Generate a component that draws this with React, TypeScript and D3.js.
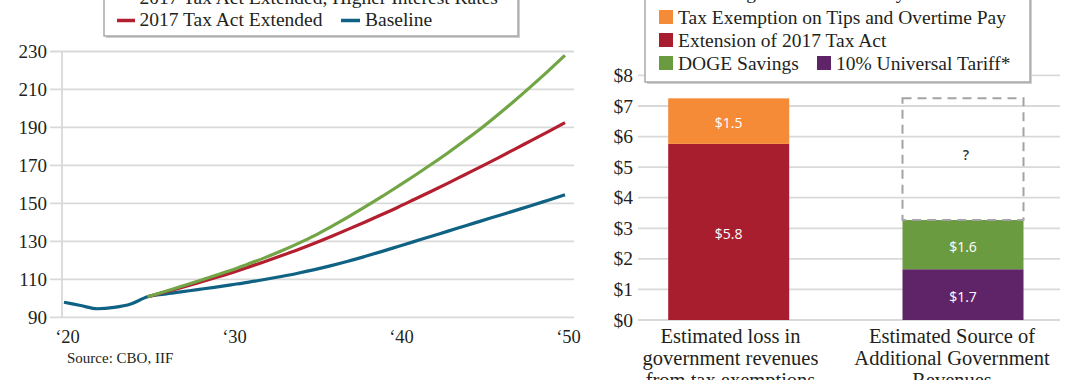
import React from "react";
import * as d3 from "d3";

// ---------- Left chart data (Debt, % of GDP) ----------
const HIST_YEARS = [2020, 2021, 2022, 2023, 2024, 2025, 2026, 2027, 2028, 2029, 2030, 2031, 2032, 2033, 2034, 2035, 2036, 2037, 2038, 2039, 2040, 2041, 2042, 2043, 2044, 2045, 2046, 2047, 2048, 2049, 2050];
const BASELINE = [97.9, 96.2, 94.5, 95.2, 97.0, 100.8, 102.2, 103.4, 104.6, 105.8, 107.1, 108.4, 109.9, 111.5, 113.2, 115.1, 117.2, 119.5, 122.0, 124.6, 127.3, 130.0, 132.7, 135.4, 138.1, 140.8, 143.5, 146.2, 148.9, 151.7, 154.5];
const PROJ_YEARS = [2025, 2026, 2027, 2028, 2029, 2030, 2031, 2032, 2033, 2034, 2035, 2036, 2037, 2038, 2039, 2040, 2041, 2042, 2043, 2044, 2045, 2046, 2047, 2048, 2049, 2050];
const TAX_ACT_EXTENDED = [100.8, 103.2, 105.6, 108.1, 110.7, 113.4, 116.3, 119.3, 122.4, 125.6, 129.0, 132.6, 136.3, 140.1, 144.0, 148.0, 152.2, 156.4, 160.7, 165.1, 169.5, 174.0, 178.6, 183.2, 187.8, 192.5];
const TAX_ACT_HIGH_RATES = [100.8, 103.5, 106.2, 109.0, 111.9, 114.8, 118.0, 121.3, 124.9, 128.8, 133.0, 137.8, 142.8, 148.0, 153.4, 159.0, 164.7, 170.6, 176.7, 183.1, 189.7, 196.8, 204.2, 211.9, 219.8, 228.0];
const Y_TICKS = [90, 110, 130, 150, 170, 190, 210, 230];
const X_TICKS = [2020, 2030, 2040, 2050];
const X_TICK_LABELS = ["\u201820", "\u201830", "\u201840", "\u201850"];

// ---------- Right chart data ($ trillions) ----------
const CATEGORIES = ["loss", "source"];
const CATEGORY_LABELS = [
  ["Estimated loss in", "government revenues", "from tax exemptions"],
  ["Estimated Source of", "Additional Government", "Revenues"],
];
const LOSS_SEGMENTS = ["Extension of 2017 Tax Act", "Tax Exemption on Tips and Overtime Pay"];
const LOSS_VALUES = [5.76, 1.49];
const SOURCE_SEGMENTS = ["10% Universal Tariff*", "DOGE Savings"];
const SOURCE_VALUES = [1.66, 1.61];
const GAP_LABEL = "?";
const DOLLAR_TICKS = [0, 1, 2, 3, 4, 5, 6, 7, 8];

const C = {
  green: "#72a545",
  red: "#b41f30",
  blue: "#0f6283",
  orange: "#f68b37",
  barRed: "#a81e2e",
  barGreen: "#6b9b41",
  purple: "#5f2467",
  grid: "#d9d9d9",
  text: "#231f20",
};
const SEG_COLORS: Record<string, string> = {
  "Extension of 2017 Tax Act": C.barRed,
  "Tax Exemption on Tips and Overtime Pay": C.orange,
  "10% Universal Tariff*": C.purple,
  "DOGE Savings": C.barGreen,
};

const SERIF = "'Liberation Serif', 'Times New Roman', serif";
const SANS = "'Open Sans', 'Noto Sans', sans-serif";

function LeftChart() {
  const x = d3.scaleLinear().domain([2020, 2050]).range([64, 565]);
  const y = d3.scaleLinear().domain([90, 230]).range([317.3, 51.5]);
  const line = d3
    .line<[number, number]>()
    .x((d) => x(d[0]))
    .y((d) => y(d[1]))
    .curve(d3.curveMonotoneX);
  const base = HIST_YEARS.map((yr, i) => [yr, BASELINE[i]] as [number, number]);
  const ext = PROJ_YEARS.map((yr, i) => [yr, TAX_ACT_EXTENDED[i]] as [number, number]);
  const high = PROJ_YEARS.map((yr, i) => [yr, TAX_ACT_HIGH_RATES[i]] as [number, number]);
  return (
    <g>
      {Y_TICKS.map((t) => (
        <g key={t}>
          <line x1={50} x2={574} y1={y(t)} y2={y(t)} stroke={C.grid} strokeWidth={1.8} />
          <text x={47} y={y(t)} dy="0.34em" textAnchor="end" fontFamily={SERIF} fontSize={19} fill={C.text}>
            {t}
          </text>
        </g>
      ))}
      <line x1={62} x2={62} y1={y(230)} y2={y(90)} stroke={C.grid} strokeWidth={1.8} />
      {X_TICKS.map((t, i) => (
        <text key={t} x={x(t) + 3.5} y={343} textAnchor="middle" fontFamily={SERIF} fontSize={18.5} fill={C.text}>
          {X_TICK_LABELS[i]}
        </text>
      ))}
      <path d={line(base) || ""} fill="none" stroke={C.blue} strokeWidth={3.2} strokeLinejoin="round" />
      <path d={line(ext) || ""} fill="none" stroke={C.red} strokeWidth={3.2} strokeLinejoin="round" />
      <path d={line(high) || ""} fill="none" stroke={C.green} strokeWidth={3.2} strokeLinejoin="round" />
      <text x={67} y={363} fontFamily={SERIF} fontSize={15} fill={C.text}>
        Source: CBO, IIF
      </text>
      {/* legend */}
      <rect x={106} y={-6} width={414} height={44} fill="#cfcfcf" />
      <rect x={104} y={-8} width={414} height={44} fill="#fff" stroke="#a3a3a3" strokeWidth={1.4} />
      <line x1={117} x2={135} y1={-2} y2={-2} stroke={C.green} strokeWidth={3.5} />
      <text x={139.5} y={4} fontFamily={SERIF} fontSize={19.5} fill={C.text}>
        2017 Tax Act Extended, Higher Interest Rates
      </text>
      <line x1={117} x2={135} y1={20.5} y2={20.5} stroke={C.red} strokeWidth={3.5} />
      <text x={139.5} y={26} fontFamily={SERIF} fontSize={19.5} fill={C.text}>
        2017 Tax Act Extended
      </text>
      <line x1={341} x2={360} y1={20.5} y2={20.5} stroke={C.blue} strokeWidth={3.5} />
      <text x={365} y={26} fontFamily={SERIF} fontSize={19.5} fill={C.text}>
        Baseline
      </text>
    </g>
  );
}

function RightChart() {
  const y = d3.scaleLinear().domain([0, 8]).range([320, 75.4]);
  const xBar = d3.scalePoint<string>().domain(CATEGORIES).range([728.7, 963]);
  const xLabel = d3.scalePoint<string>().domain(CATEGORIES).range([730.5, 952]);
  const bw = 121;
  const fmt = d3.format("$.1f");

  const stackSegments = (names: string[], vals: number[]) => {
    let acc = 0;
    return names.map((n, i) => {
      const s = { name: n, y0: acc, y1: acc + vals[i], v: vals[i] };
      acc += vals[i];
      return s;
    });
  };
  const lossStack = stackSegments(LOSS_SEGMENTS, LOSS_VALUES);
  const srcStack = stackSegments(SOURCE_SEGMENTS, SOURCE_VALUES);
  const lossTotal = d3.sum(LOSS_VALUES);
  const srcTotal = d3.sum(SOURCE_VALUES);
  const stacks = [
    { cat: "loss", segs: lossStack },
    { cat: "source", segs: srcStack },
  ];
  const cx2 = xBar("source") as number;

  return (
    <g>
      {DOLLAR_TICKS.map((t) => (
        <g key={t}>
          <line x1={638} x2={1060} y1={y(t)} y2={y(t)} stroke={C.grid} strokeWidth={1.8} />
          <text x={633} y={y(t)} dy="0.34em" textAnchor="end" fontFamily={SERIF} fontSize={19.5} fill={C.text}>
            {"$" + t}
          </text>
        </g>
      ))}
      {stacks.map((st) =>
        st.segs.map((s) => {
          const cx = xBar(st.cat) as number;
          return (
            <g key={st.cat + s.name}>
              <rect x={cx - bw / 2} y={y(s.y1)} width={bw} height={y(s.y0) - y(s.y1)} fill={SEG_COLORS[s.name]} />
              <text
                x={cx}
                y={(y(s.y0) + y(s.y1)) / 2 + 2}
                dy="0.35em"
                textAnchor="middle"
                fontFamily={SANS}
                fontSize={14}
                fill="#fff"
              >
                {fmt(s.v)}
              </text>
            </g>
          );
        })
      )}
      <rect
        x={cx2 - bw / 2}
        y={y(lossTotal)}
        width={bw}
        height={y(srcTotal) - y(lossTotal)}
        fill="none"
        stroke="#a3a3a3"
        strokeWidth={2}
        strokeDasharray="9,6"
      />
      <text
        x={cx2 + 3}
        y={(y(lossTotal) + y(srcTotal)) / 2 - 4}
        dy="0.35em"
        textAnchor="middle"
        fontFamily={SANS}
        fontSize={14}
        fontWeight={600}
        fill="#333"
      >
        {GAP_LABEL}
      </text>
      {CATEGORIES.map((c, i) =>
        CATEGORY_LABELS[i].map((ln, j) => (
          <text
            key={c + j}
            x={xLabel(c) as number}
            y={343 + j * 22}
            textAnchor="middle"
            fontFamily={SERIF}
            fontSize={20.5}
            fill={C.text}
          >
            {ln}
          </text>
        ))
      )}
      {/* legend */}
      <rect x={647} y={-6} width={385} height={90} fill="#cfcfcf" />
      <rect x={645} y={-8} width={385} height={90} fill="#fff" stroke="#a3a3a3" strokeWidth={1.4} />
      <rect x={659.5} y={-16} width={13} height={13} fill="none" stroke="#a3a3a3" strokeWidth={1.5} strokeDasharray="3,2" />
      <text x={678} y={-1.5} fontFamily={SERIF} fontSize={19.5} fill={C.text}>
        Financing Needed: Currently Unknown
      </text>
      <rect x={659} y={10} width={14} height={14} fill={C.orange} />
      <text x={678} y={23.5} fontFamily={SERIF} fontSize={19.5} fill={C.text}>
        Tax Exemption on Tips and Overtime Pay
      </text>
      <rect x={659} y={33} width={14} height={14} fill={C.barRed} />
      <text x={678} y={46.5} fontFamily={SERIF} fontSize={19.5} fill={C.text}>
        Extension of 2017 Tax Act
      </text>
      <rect x={659} y={56} width={14} height={14} fill={C.barGreen} />
      <text x={678} y={69.5} fontFamily={SERIF} fontSize={19.5} fill={C.text}>
        DOGE Savings
      </text>
      <rect x={817} y={56} width={14} height={14} fill={C.purple} />
      <text x={836} y={69.5} fontFamily={SERIF} fontSize={19.5} fill={C.text}>
        10% Universal Tariff*
      </text>
    </g>
  );
}

export default function App() {
  return (
    <div style={{ position: "absolute", left: 0, top: 0, width: 1080, height: 380, background: "#fff" }}>
      <svg width={1080} height={380} viewBox="0 0 1080 380" style={{ display: "block" }}>
        <rect x={0} y={0} width={1080} height={380} fill="#fff" />
        <LeftChart />
        <RightChart />
      </svg>
    </div>
  );
}
